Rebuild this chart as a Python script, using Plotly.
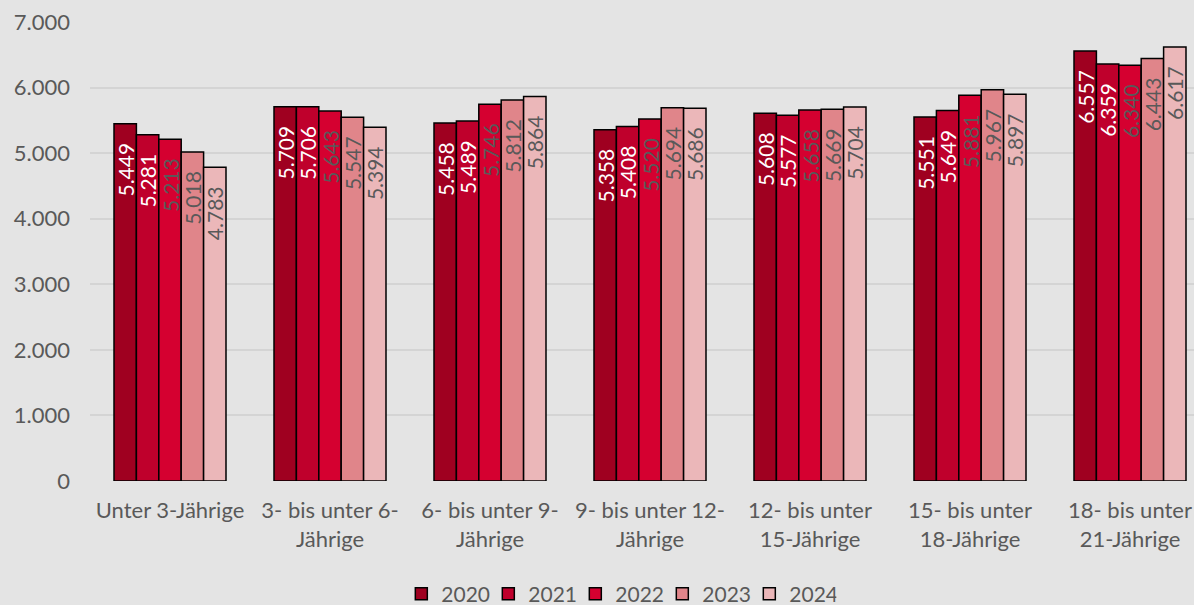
import plotly.graph_objects as go

categories = [
    "Unter 3-Jährige",
    "3- bis unter 6-<br>Jährige",
    "6- bis unter 9-<br>Jährige",
    "9- bis unter 12-<br>Jährige",
    "12- bis unter<br>15-Jährige",
    "15- bis unter<br>18-Jährige",
    "18- bis unter<br>21-Jährige",
]
years = ["2020", "2021", "2022", "2023", "2024"]
v2020 = [5449, 5709, 5458, 5358, 5608, 5551, 6557]
v2021 = [5281, 5706, 5489, 5408, 5577, 5649, 6359]
v2022 = [5213, 5643, 5746, 5520, 5658, 5881, 6340]
v2023 = [5018, 5547, 5812, 5694, 5669, 5967, 6443]
v2024 = [4783, 5394, 5864, 5686, 5704, 5897, 6617]
series = [v2020, v2021, v2022, v2023, v2024]
y_ticks = [0, 1000, 2000, 3000, 4000, 5000, 6000, 7000]

colors = ["#9f0020", "#bf002c", "#d50030", "#e0858a", "#ebb7b9"]
text_colors = ["#ffffff", "#ffffff", "#595959", "#595959", "#595959"]
FONT = "Lato"

def fmt(v):
    return f"{v:,}".replace(",", ".") + "\u00a0\u00a0\u00a0"

fig = go.Figure()
for yr, vals, c, tc in zip(years, series, colors, text_colors):
    fig.add_trace(go.Bar(
        name=yr, x=categories, y=vals,
        marker=dict(color=c, line=dict(color="#000000", width=1.5)),
        text=[fmt(v) for v in vals],
        textposition="inside", insidetextanchor="end", textangle=-90,
        textfont=dict(color=tc, size=21, family=FONT),
        cliponaxis=False,
    ))

fig.update_layout(
    width=1194, height=605,
    paper_bgcolor="#e4e4e4", plot_bgcolor="#e4e4e4",
    margin=dict(l=90, r=0, t=22, b=124, autoexpand=False),
    barmode="group", bargap=0.3, bargroupgap=0,
    separators=",.",
    font=dict(family=FONT, size=22, color="#595959"),
    uniformtext=dict(minsize=21, mode="show"),
    showlegend=True,
    legend=dict(orientation="h", x=0.479, xanchor="center",
                yref="container", y=0.018, yanchor="middle",
                entrywidth=42, entrywidthmode="pixels",
                font=dict(size=21, color="#595959"), itemwidth=30, bgcolor="rgba(0,0,0,0)"),
    xaxis=dict(range=[-0.5, 6.4], showgrid=False, showline=False, zeroline=False,
               automargin=False,
               tickfont=dict(size=22, color="#595959"), ticklabelstandoff=14),
    yaxis=dict(range=[0, 7000], tickvals=y_ticks, tickformat=",d",
               automargin=False,
               showgrid=True, gridcolor="#d4d4d4", gridwidth=1.5, zeroline=False,
               showline=False, tickfont=dict(size=22, color="#595959"),
               ticklabelstandoff=19),
)

fig.write_html("out.html", config={"displayModeBar": False},
               post_script="document.body.style.margin='0';document.body.style.background='#e4e4e4';")
